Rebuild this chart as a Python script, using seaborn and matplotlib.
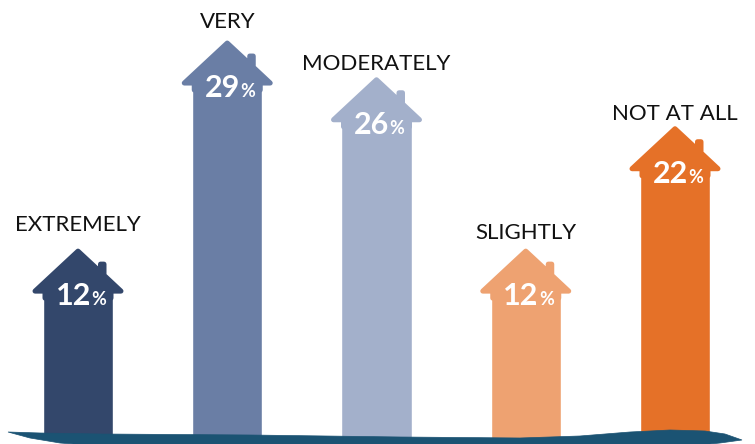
import numpy as np
import pandas as pd
import matplotlib
matplotlib.use("Agg")
import matplotlib.pyplot as plt
import seaborn as sns
from matplotlib.patches import Polygon

categories = ["EXTREMELY", "VERY", "MODERATELY", "SLIGHTLY", "NOT AT ALL"]
values = [12, 29, 26, 12, 22]
colors = ["#33476b", "#6a7ea5", "#a3b0cb", "#eea271", "#e57128"]
ground_color = "#1b5373"
label_gap_px = [18, 13, 7, 10, 6]   # layout: gap between roof apex and label baseline

sns.set_theme(style="white")
plt.rcParams["font.family"] = ["Lato", "DejaVu Sans"]

W, H, DPI = 755, 444, 100
fig = plt.figure(figsize=(W / DPI, H / DPI), dpi=DPI)
ax = fig.add_axes([0, 0, 1, 1])

df = pd.DataFrame({"cat": categories, "val": values})
sns.barplot(data=df, x="cat", y="val", hue="cat", palette=colors,
            order=categories, hue_order=categories, legend=False,
            width=0.47, saturation=1, ax=ax)

# axes mapping: bar centers at pixel 78 .. 675, y=0 at pixel 440
xs = 149.25   # px per category step
ys = 12.24    # px per percent
x0_px, y0_px = 78, 440
ax.set_xlim(-x0_px / xs, (W - x0_px) / xs)
ax.set_ylim(-(H - y0_px) / ys, y0_px / ys)
ax.axis("off")

def px2data(px, py):
    return (px - x0_px) / xs, (y0_px - py) / ys

PT = 72 / DPI
# roof outline (pixel offsets from top centre of each bar, up positive)
roof = [(-33, -5), (-33, 2), (-43, 2), (0, 42), (22.5, 21.1), (22.5, 29),
        (26, 29), (26, 17.9), (43, 2), (33, 2), (33, -5)]

for patch, cat, val, col, gap in zip(ax.patches, categories, values, colors, label_gap_px):
    cx = patch.get_x() + patch.get_width() / 2
    top = patch.get_y() + patch.get_height()
    pts = [(cx + dx / xs, top + dy / ys) for dx, dy in roof]
    ax.add_patch(Polygon(pts, closed=True, facecolor=col, edgecolor=col,
                         linewidth=5 * PT, joinstyle="round", zorder=3))
    apex = top + 44.5 / ys
    ax.annotate(cat, (cx, apex), xytext=(0, gap * PT), textcoords="offset points",
                ha="center", va="baseline", fontsize=16, fontweight="normal",
                color="#111111", zorder=5)
    ax.annotate(f"{val}", (cx, top), xytext=(13 * PT, -12 * PT),
                textcoords="offset points", ha="right", va="baseline",
                fontsize=22, fontweight="bold", color="white", zorder=5)
    ax.annotate("%", (cx, top), xytext=(13 * PT, -12 * PT),
                textcoords="offset points", ha="left", va="baseline",
                fontsize=13, fontweight="bold", color="white", zorder=5)

# ground wave (decoration)
top_line = [(8, 432), (40, 433), (100, 434), (250, 435), (400, 437), (520, 438),
            (580, 436), (630, 432), (670, 430), (705, 431), (725, 434), (742, 440)]
bottom_line = [(742, 440), (720, 443), (690, 446), (100, 446), (60, 443),
               (30, 438), (8, 432)]
poly = [px2data(*p) for p in top_line + bottom_line]
ax.add_patch(Polygon(poly, closed=True, facecolor=ground_color,
                     edgecolor=ground_color, linewidth=0.5, zorder=4))

fig.savefig("out.png", dpi=DPI)
